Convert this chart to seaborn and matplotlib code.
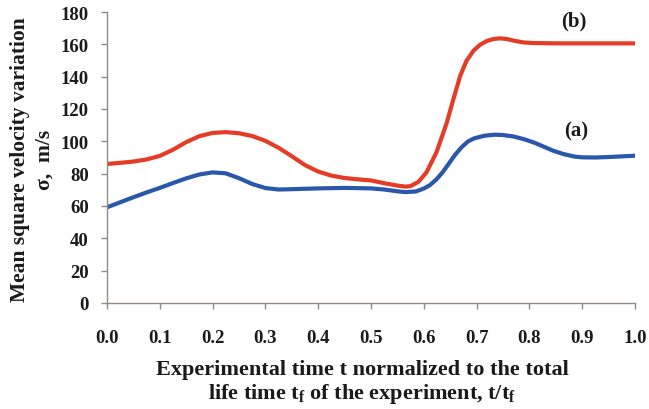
import matplotlib
matplotlib.use("Agg")
import matplotlib.pyplot as plt
import numpy as np
import pandas as pd
import seaborn as sns

# Normalized time t/t_f and mean square velocity variation (m/s) for the two runs
t_a = [0.0, 0.025, 0.05, 0.075, 0.1, 0.125, 0.15, 0.175, 0.2, 0.225, 0.25, 0.275,
       0.3, 0.325, 0.35, 0.4, 0.45, 0.5, 0.525, 0.55, 0.565, 0.585, 0.6, 0.612,
       0.624, 0.636, 0.648, 0.66, 0.672, 0.684, 0.695, 0.715, 0.735, 0.75, 0.77, 0.79,
       0.81, 0.825, 0.845, 0.865, 0.885, 0.9, 0.925, 0.95, 0.975, 1.0]
sigma_a = [59.2, 62.3, 65.4, 68.4, 71.2, 74.2, 77.1, 79.5, 80.8, 80.2, 77.2, 73.6,
           71.1, 70.2, 70.4, 70.9, 71.2, 70.9, 70.2, 69.1, 68.6, 69.0, 70.8, 73.0,
           76.5, 81.0, 86.5, 92.0, 96.5, 100.0, 101.8, 103.5, 104.1, 103.9, 103.0, 101.3,
           99.1, 97.0, 94.2, 92.1, 90.6, 90.1, 90.0, 90.3, 90.7, 91.1]

t_b = [0.0, 0.025, 0.05, 0.075, 0.1, 0.125, 0.15, 0.175, 0.2, 0.225, 0.25, 0.275,
       0.3, 0.325, 0.35, 0.375, 0.4, 0.425, 0.45, 0.475, 0.5, 0.525, 0.55, 0.565,
       0.575, 0.59, 0.605, 0.624, 0.643, 0.656, 0.669, 0.681, 0.694, 0.706, 0.719,
       0.732, 0.744, 0.757, 0.77, 0.788, 0.807, 0.85, 0.9, 0.95, 1.0]
sigma_b = [86.0, 86.7, 87.5, 88.8, 91.0, 94.8, 99.5, 103.2, 105.2, 105.7, 105.0, 103.3,
           100.3, 96.0, 90.8, 85.3, 81.3, 78.8, 77.3, 76.5, 75.8, 74.1, 72.6, 72.0,
           72.3, 75.0, 80.8, 93.2, 111.0, 126.0, 140.6, 149.9, 156.0, 159.6, 162.0,
           163.3, 163.7, 163.3, 162.3, 161.2, 160.8, 160.6, 160.6, 160.6, 160.6]

run_labels = ["(a)", "(b)"]
x_ticks = [0.0, 0.1, 0.2, 0.3, 0.4, 0.5, 0.6, 0.7, 0.8, 0.9, 1.0]
y_ticks = [0, 20, 40, 60, 80, 100, 120, 140, 160, 180]

df = pd.concat([
    pd.DataFrame({"t": t_a, "sigma": sigma_a, "run": run_labels[0]}),
    pd.DataFrame({"t": t_b, "sigma": sigma_b, "run": run_labels[1]}),
], ignore_index=True)

sns.set_theme(style="ticks")
plt.rcParams["font.family"] = ["Liberation Serif", "DejaVu Serif"]
plt.rcParams["font.weight"] = "bold"
plt.rcParams["mathtext.fontset"] = "custom"
plt.rcParams["mathtext.rm"] = "Liberation Serif:bold"

fig = plt.figure(figsize=(6.49, 4.10), dpi=100, facecolor="white")
ax = fig.add_axes([107 / 649, 106 / 410, 528 / 649, 291 / 410])

palette = {"(a)": "#2a57aa", "(b)": "#e53c27"}
sns.lineplot(data=df, x="t", y="sigma", hue="run", palette=palette,
             estimator=None, sort=False, linewidth=3.0, legend=False, ax=ax)

ax.set_xlim(0, 1.0)
ax.set_ylim(0, 180)
ax.set_xticks(x_ticks)
ax.set_xticklabels([f"{v:.1f}" for v in x_ticks])
ax.set_yticks(y_ticks)
ax.set_yticklabels([str(v) for v in y_ticks])

sns.despine(ax=ax)
spine_col = "#948a84"
for side in ("left", "bottom"):
    ax.spines[side].set_color(spine_col)
    ax.spines[side].set_linewidth(1.0)
ax.tick_params(axis="both", direction="out", length=4, width=1.0,
               color=spine_col, labelsize=13.5, labelcolor="#1a1a1a")
ax.tick_params(axis="x", pad=15)
ax.tick_params(axis="y", pad=9)
for lbl in ax.get_xticklabels() + ax.get_yticklabels():
    lbl.set_fontweight("bold")

ax.set_xlabel("Experimental time t normalized to the total\n"
              r"life time $\mathregular{t_f}$ of the experiment, t/$\mathregular{t_f}$",
              fontsize=16, fontweight="bold", color="#1a1a1a", linespacing=1.15)
ax.xaxis.set_label_coords(0.483, -0.192)
ax.set_ylabel("")

fig.text(32.5 / 649, 1 - 160 / 410,
         "Mean square velocity variation\nσ,  m/s",
         rotation=90, ha="center", va="center", multialignment="center",
         fontsize=15.5, fontweight="bold", color="#1a1a1a", linespacing=1.3)

ax.text(0.885, 175, "(b)", ha="center", va="center", fontsize=15,
        fontweight="bold", color="#1a1a1a", clip_on=False)
ax.text(0.889, 107, "(a)", ha="center", va="center", fontsize=15,
        fontweight="bold", color="#1a1a1a", clip_on=False)

fig.savefig("out.png", dpi=100, facecolor="white")
